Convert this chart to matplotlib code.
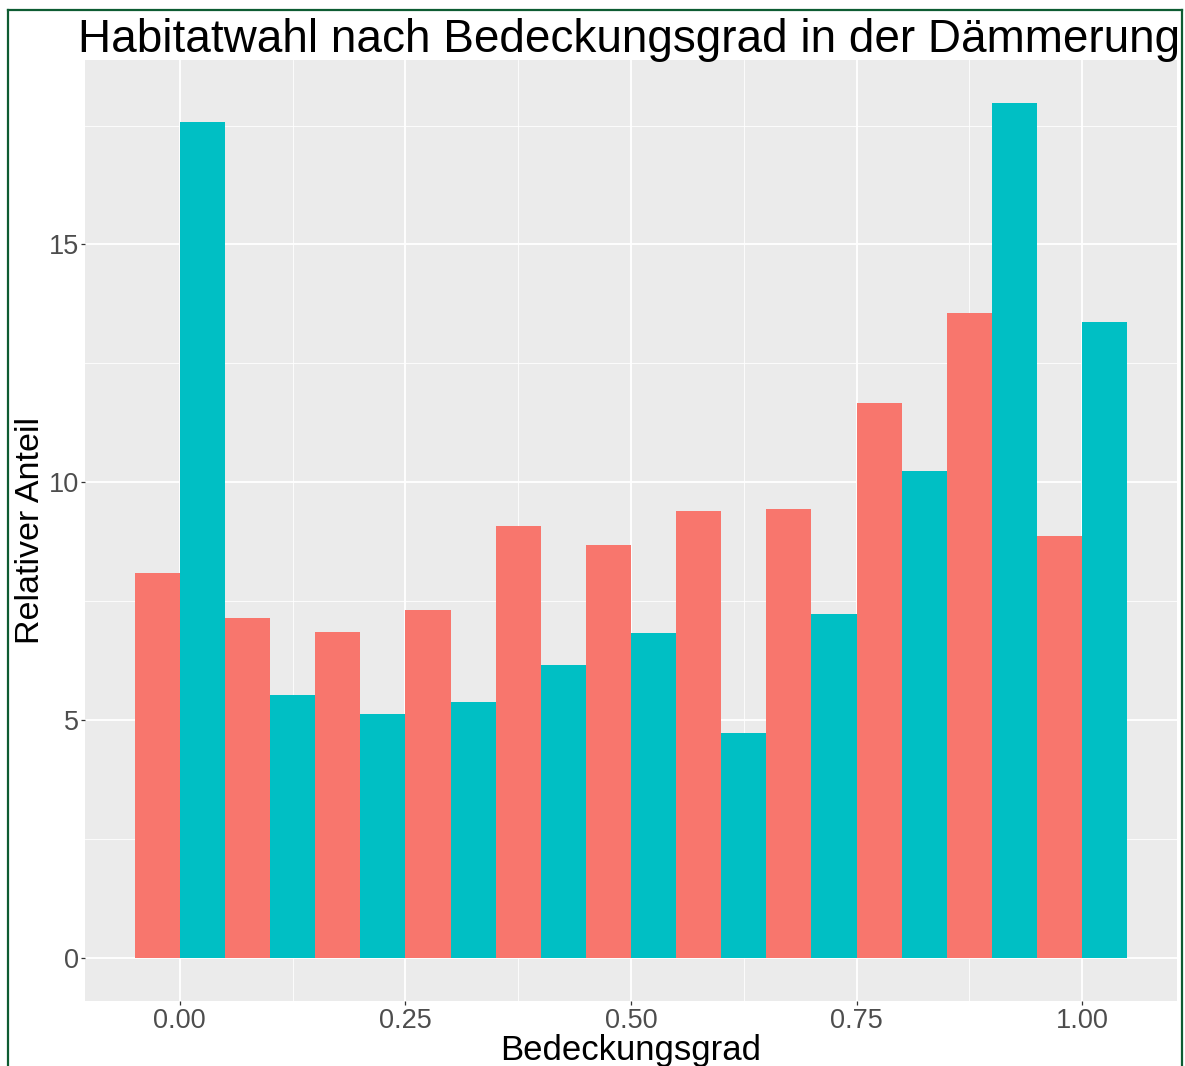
import numpy as np
import matplotlib
matplotlib.use('Agg')
import matplotlib.pyplot as plt
from matplotlib.lines import Line2D

plt.rcParams['font.family'] = ['Liberation Sans', 'DejaVu Sans']

# Bedeckungsgrad classes and relative shares of the two groups
bedeckung = [0.0, 0.1, 0.2, 0.3, 0.4, 0.5, 0.6, 0.7, 0.8, 0.9, 1.0]
anteil_rot = [8.09, 7.14, 6.85, 7.31, 9.08, 8.68, 9.39, 9.43, 11.66, 13.57, 8.87]
anteil_tuerkis = [17.57, 5.53, 5.13, 5.38, 6.16, 6.83, 4.73, 7.23, 10.23, 17.98, 13.36]

x_ticks = [0.0, 0.25, 0.5, 0.75, 1.0]
x_ticklabels = ['0.00', '0.25', '0.50', '0.75', '1.00']
y_ticks = [0, 5, 10, 15]

W, H = 1185, 1066
fig = plt.figure(figsize=(W / 100, H / 100), dpi=100)
ax = fig.add_axes([85 / W, 1 - 1000.7 / H, (1177 - 85) / W, (1000.7 - 60) / H])
ax.set_facecolor('#EBEBEB')

x = np.array(bedeckung)
bw = 0.05
ax.bar(x - bw / 2, anteil_rot, width=bw, color='#F8766D', linewidth=0, zorder=3)
ax.bar(x + bw / 2, anteil_tuerkis, width=bw, color='#00BFC4', linewidth=0, zorder=3)

# ggplot-like 5% expansion
ymax = max(anteil_tuerkis)
ax.set_xlim(-0.105, 1.105)
ax.set_ylim(-0.05 * ymax, 1.05 * ymax)

ax.set_xticks(x_ticks)
ax.set_xticklabels(x_ticklabels)
ax.set_yticks(y_ticks)
ax.set_xticks([0.125, 0.375, 0.625, 0.875], minor=True)
ax.set_yticks([2.5, 7.5, 12.5, 17.5], minor=True)

ax.grid(which='major', color='white', linewidth=1.3, zorder=1)
ax.grid(which='minor', color='white', linewidth=0.6, zorder=1)
ax.set_axisbelow(True)

for s in ax.spines.values():
    s.set_visible(False)

ax.tick_params(which='major', length=3, width=0.9, color='#333333',
               labelsize=19.5, labelcolor='#4D4D4D')
ax.tick_params(axis='x', which='major', pad=2.5)
ax.tick_params(axis='y', which='major', pad=1.5)
ax.tick_params(which='minor', length=0)

fig.text(629 / W, 1 - 52 / H, 'Habitatwahl nach Bedeckungsgrad in der Dämmerung',
         fontsize=33, ha='center', va='baseline', color='black')
fig.text(631 / W, 1 - 1060 / H, 'Bedeckungsgrad', fontsize=25,
         ha='center', va='baseline', color='black')
fig.text(31 / W, 1 - 531 / H, 'Relativer Anteil', fontsize=24.5,
         ha='center', va='center', rotation=90, color='black')

# green frame around the picture
border = '#0E5C32'
fig.add_artist(Line2D([7.5 / W, 7.5 / W], [0, 1 - 10 / H], color=border, linewidth=1.6))
fig.add_artist(Line2D([7.5 / W, 1182 / W], [1 - 10 / H, 1 - 10 / H], color=border, linewidth=1.6))
fig.add_artist(Line2D([1182 / W, 1182 / W], [0, 1 - 10 / H], color=border, linewidth=1.6))

fig.savefig('out.png', dpi=100)
